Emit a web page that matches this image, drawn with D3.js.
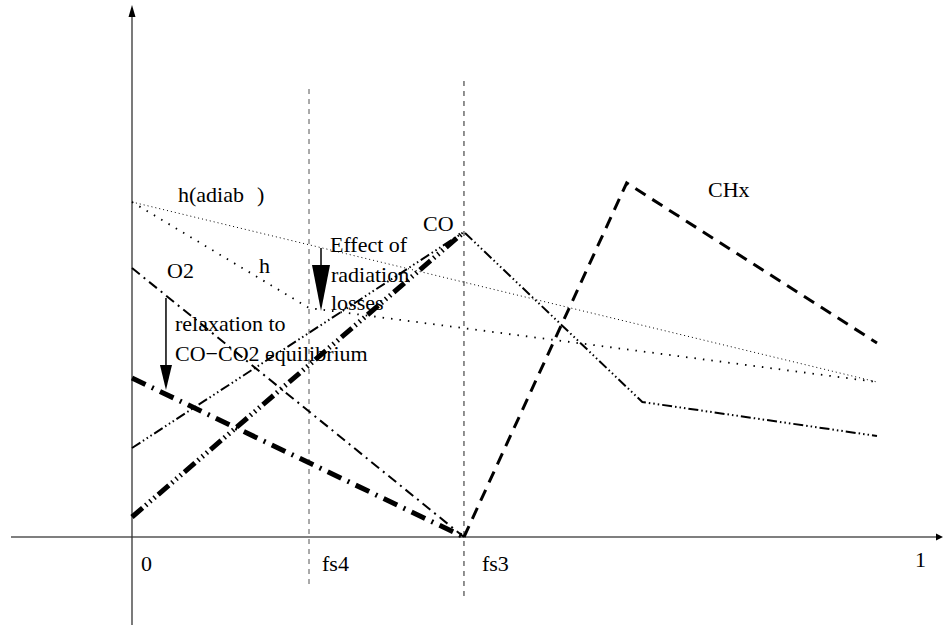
<!DOCTYPE html>
<html>
<head>
<meta charset="utf-8">
<script src="https://cdn.jsdelivr.net/npm/d3@7"></script>
<style>
  html, body { margin: 0; padding: 0; background: #fff; }
  svg { display: block; }
</style>
</head>
<body>
<svg id="chart" width="943" height="627"></svg>
<script>
// ---- data (normalised mixture fraction x, arbitrary y units) ----
const fs4 = 0.2376;
const fs3 = 0.4456;
const xTickLabels = ["0", "fs4", "fs3", "1"];
const xTickValues = [0, fs4, fs3, 1];

const hAdiabX = [0, 1];
const hAdiabY = [0.670, 0.310];

const hX = [0, fs4, 1];
const hY = [0.670, 0.458, 0.310];

const o2X = [0, fs3];
const o2Y = [0.538, 0.0];

const o2EqX = [0, fs3];
const o2EqY = [0.318, 0.0];

const coX = [0, fs3, 0.685, 1];
const coY = [0.178, 0.610, 0.270, 0.202];

const coEqX = [0, fs3];
const coEqY = [0.040, 0.610];

const chxX = [fs3, 0.664, 1];
const chxY = [0.0, 0.708, 0.388];

// ---- scales ----
const svg = d3.select("#chart");
const x = d3.scaleLinear().domain([0, 1]).range([132, 877]);
const y = d3.scaleLinear().domain([0, 1]).range([537, 37]);

const line = d3.line().x(d => x(d[0])).y(d => y(d[1]));
const zip = (xs, ys) => xs.map((v, i) => [v, ys[i]]);

function addText(t, px, py) {
  svg.append("text").attr("x", px).attr("y", py)
    .style("font-family", '"Liberation Serif"').style("font-size", "22px")
    .attr("fill", "#000").text(t);
}

// ---- axes ----
svg.append("line").attr("x1", 11).attr("x2", 938).attr("y1", y(0)).attr("y2", y(0))
  .attr("stroke", "#000").attr("stroke-width", 1.2);
svg.append("path").attr("d", `M943,${y(0)} L936,${y(0) - 3.5} L936,${y(0) + 3.5} Z`).attr("fill", "#000");
svg.append("line").attr("x1", x(0)).attr("x2", x(0)).attr("y1", 625).attr("y2", 14)
  .attr("stroke", "#333").attr("stroke-width", 1.3);
svg.append("path").attr("d", `M${x(0)},5 L${x(0) - 3.5},17 L${x(0) + 3.5},17 Z`).attr("fill", "#000");

// vertical reference lines fs4, fs3
svg.append("line").attr("x1", x(fs4)).attr("x2", x(fs4)).attr("y1", 89).attr("y2", 588)
  .attr("stroke", "#555").attr("stroke-width", 1).attr("stroke-dasharray", "5,5");
svg.append("line").attr("x1", x(fs3)).attr("x2", x(fs3)).attr("y1", 81).attr("y2", 600)
  .attr("stroke", "#222").attr("stroke-width", 1).attr("stroke-dasharray", "5,5");

// tick labels
const tickDx = [9, 13, 18, 38];
const tickDy = [571, 571, 571, 567];
xTickLabels.forEach((t, i) => addText(t, x(xTickValues[i]) + tickDx[i], tickDy[i]));

// ---- series ----
const series = [
  { pts: zip(hAdiabX, hAdiabY), w: 1, dash: "1,3" },
  { pts: zip(hX, hY), w: 1.8, dash: "1.5,7" },
  { pts: zip(o2X, o2Y), w: 2, dash: "10,5,2,5" },
  { pts: zip(o2EqX, o2EqY), w: 5, dash: "15,7,2,7" },
  { pts: zip(coX, coY), w: 2, dash: "10,3,1.5,3,1.5,3,1.5,3" },
  { pts: zip(coEqX, coEqY), w: 5, dash: "14,4,1.5,4,1.5,4,1.5,4" },
  { pts: zip(chxX, chxY), w: 3, dash: "12,8" }
];
series.forEach(s => {
  svg.append("path").attr("d", line(s.pts)).attr("fill", "none")
    .attr("stroke", "#000").attr("stroke-width", s.w)
    .attr("stroke-dasharray", s.dash).attr("stroke-linecap", "butt")
    .attr("stroke-linejoin", "miter");
});

// ---- annotation arrows ----
function arrow(xv, y0v, y1v, headLen, headW) {
  const ax = x(xv), a0 = y(y0v), a1 = y(y1v);
  svg.append("line").attr("x1", ax).attr("x2", ax).attr("y1", a0).attr("y2", a1 - headLen)
    .attr("stroke", "#000").attr("stroke-width", 1.5);
  svg.append("path")
    .attr("d", `M${ax - headW / 2},${a1 - headLen} L${ax + headW / 2},${a1 - headLen} L${ax},${a1} Z`)
    .attr("fill", "#000");
}
arrow(0.2537, 0.578, 0.452, 46, 18);
arrow(0.0456, 0.478, 0.294, 25, 12);

// ---- labels ----
const labels = [
  ["h(adiab", 178, 202], [")", 257, 202],
  ["O2", 167, 278], ["h", 259, 273],
  ["relaxation to", 175, 331], ["CO\u2212CO2 equilibrium", 175, 361],
  ["Effect of", 330, 252], ["radiation", 331, 282], ["losses", 331, 310],
  ["CO", 423, 231], ["CHx", 708, 197]
];
labels.forEach(l => addText(l[0], l[1], l[2]));
</script>
</body>
</html>
